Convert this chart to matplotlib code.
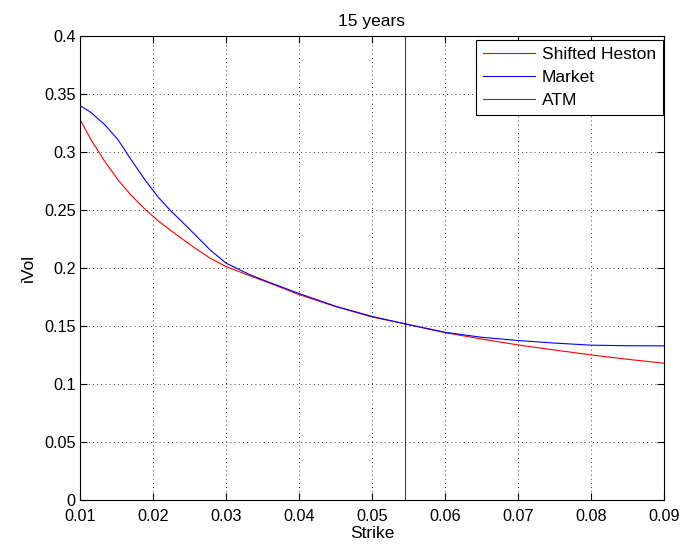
import matplotlib
matplotlib.use("Agg")
import matplotlib.pyplot as plt

strikes = [0.01, 0.0115, 0.0134, 0.0152, 0.017, 0.0189, 0.0207, 0.0223, 0.0251, 0.0278,
           0.03, 0.0333, 0.036, 0.04, 0.045, 0.05, 0.0545, 0.06, 0.065, 0.07,
           0.075, 0.08, 0.085, 0.09]
shifted_heston = [0.328, 0.3105, 0.2917, 0.2759, 0.2625, 0.2505, 0.2405, 0.2327, 0.2198, 0.2083,
                  0.2010, 0.1930, 0.1867, 0.1768, 0.1665, 0.1575, 0.1516, 0.1440, 0.1385, 0.1334,
                  0.1290, 0.1248, 0.1210, 0.1176]
market = [0.340, 0.334, 0.3234, 0.3105, 0.2932, 0.2759, 0.2610, 0.2500, 0.2327, 0.2155,
          0.2040, 0.1939, 0.1872, 0.1778, 0.1668, 0.1580, 0.1516, 0.1443, 0.1400, 0.1372,
          0.1350, 0.1332, 0.1327, 0.1326]
atm_strike = 0.0545
xticks = [0.01, 0.02, 0.03, 0.04, 0.05, 0.06, 0.07, 0.08, 0.09]
yticks = [0, 0.05, 0.1, 0.15, 0.2, 0.25, 0.3, 0.35, 0.4]

plt.rcParams['font.family'] = ['Liberation Sans', 'DejaVu Sans']

fig = plt.figure(figsize=(6.88, 5.5), dpi=100)
ax = fig.add_axes([80/688, 1 - 499.5/550, 584/688, 463.5/550])

ax.plot(strikes, shifted_heston, color='#ff0000', lw=0.8, label='Shifted Heston')
ax.plot(strikes, market, color='#0000ff', lw=0.8, label='Market')
ax.axvline(atm_strike, color='black', lw=0.8, alpha=0.75, label='ATM')

ax.set_xlim(0.01, 0.09)
ax.set_ylim(0, 0.4)
ax.set_xticks(xticks)
ax.set_yticks(yticks)
ax.set_xticklabels([f"{v:g}" for v in xticks])
ax.set_yticklabels([f"{v:g}" for v in yticks])
ax.tick_params(direction='in', length=5, width=0.8, labelsize=11.7,
               top=True, right=True, pad=3)
ax.tick_params(axis='x', pad=7)
ax.grid(True, color='black', linestyle=(0, (1, 4)), linewidth=0.6)
for s in ax.spines.values():
    s.set_linewidth(0.8)

ax.set_title('15 years', fontsize=12.5, pad=7)
ax.set_xlabel('Strike', fontsize=12.5, labelpad=1)
ax.set_ylabel('iVol', fontsize=12.5, labelpad=6)

leg = ax.legend(loc='upper right', bbox_to_anchor=(0.998, 0.992), fontsize=12.5,
                fancybox=False, edgecolor='black', framealpha=1,
                handlelength=3.0, handletextpad=0.4, labelspacing=0.45,
                borderpad=0.4, borderaxespad=0.0)
leg.get_frame().set_linewidth(0.8)

fig.savefig('out.png', dpi=100)
